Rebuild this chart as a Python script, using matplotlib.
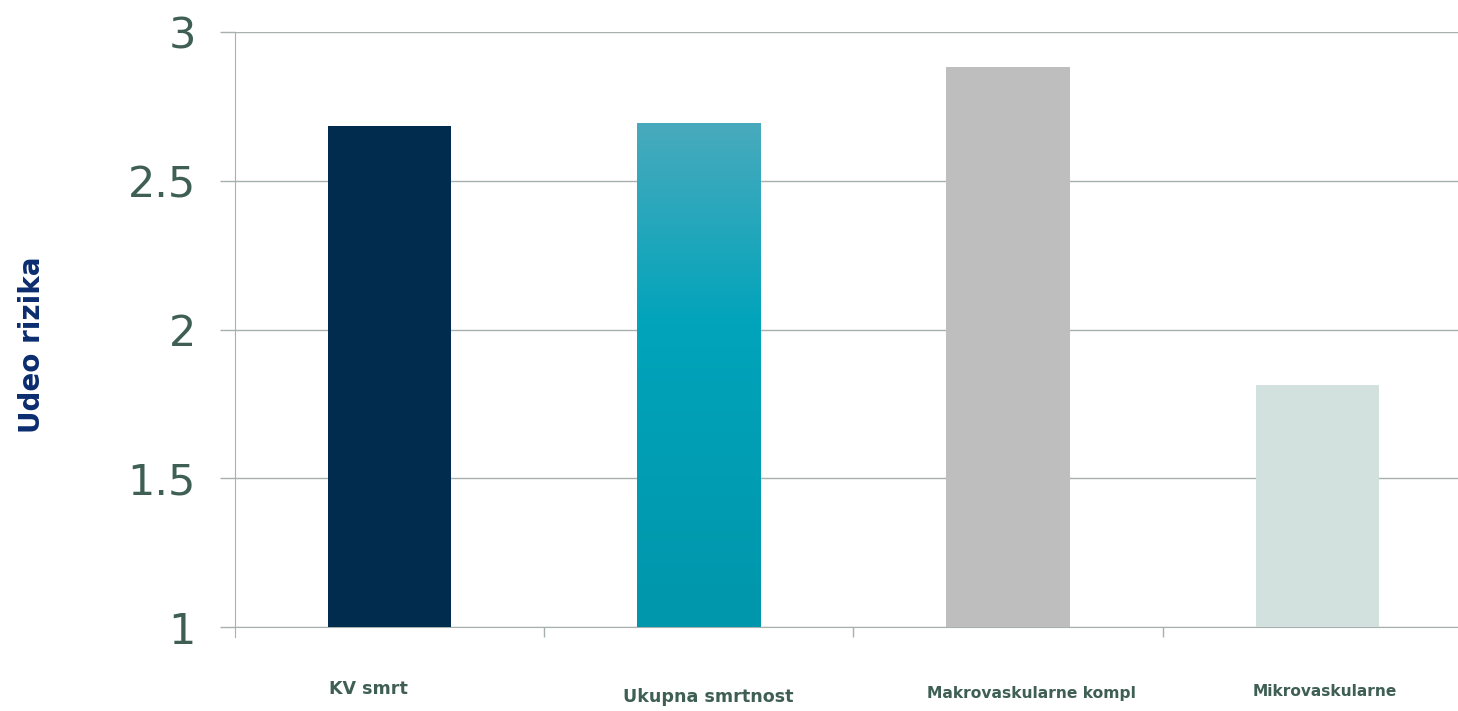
import numpy as np
import matplotlib.pyplot as plt
from matplotlib.colors import LinearSegmentedColormap
from matplotlib.transforms import blended_transform_factory

# Podaci
kategorije = ["KV smrt", "Ukupna smrtnost", "Makrovaskularne kompl", "Mikrovaskularne"]
vrednosti = [2.684, 2.694, 2.882, 1.813]
boje = ["#022c4e", "#00a2b9", "#bebebe", "#d3e1de"]
y_ticks = [1, 1.5, 2, 2.5, 3]
y_tick_labels = ["1", "1.5", "2", "2.5", "3"]

# Pozicije i velicine natpisa kategorija (levi rub u jedinicama x ose, y u jedinicama ose)
natpis_x = [-0.196, 0.754, 1.737, 2.791]
natpis_y = [-0.105, -0.118, -0.111, -0.109]
natpis_vel = [12.6, 12.6, 11.2, 11.1]

tekst_boja = "#3f5f55"
mreza_boja = "#a7b1ae"

fig = plt.figure(figsize=(14.58, 7.11), dpi=100)
ax = fig.add_axes([235 / 1458, 84 / 711, 1237 / 1458, 595 / 711])

x = np.arange(len(kategorije))
bars = ax.bar(x, [v - 1 for v in vrednosti], bottom=1, width=0.4,
              color=boje, zorder=3, linewidth=0)

# Gradijent za drugi stubic
grad = LinearSegmentedColormap.from_list(
    "tirkiz", [(0.0, "#0096ab"), (0.6, "#00a4bb"), (1.0, "#49aabd")])
b = bars[1]
x0, w = b.get_x(), b.get_width()
y0, h = b.get_y(), b.get_height()
img = ax.imshow(np.linspace(0, 1, 256).reshape(-1, 1), cmap=grad, origin="lower",
                extent=[x0, x0 + w, y0, y0 + h], aspect="auto", zorder=3)
img.set_clip_path(b)
b.set_facecolor("none")

ax.set_xlim(-0.5, 3.5)
ax.set_ylim(1, 3)

# Mreza i ose
ax.set_yticks(y_ticks)
ax.set_yticklabels(y_tick_labels)
ax.yaxis.grid(True, color=mreza_boja, linewidth=1.0, zorder=0)
ax.tick_params(axis="y", length=11, width=1.0, color=mreza_boja, pad=17,
               labelsize=31, labelcolor=tekst_boja)
ax.set_xticks([0.5, 1.5, 2.5])
ax.set_xticklabels([])
ax.tick_params(axis="x", length=7.5, width=1.0, color=mreza_boja)
for s in ["top", "right"]:
    ax.spines[s].set_visible(False)
ax.spines["left"].set_color(mreza_boja)
ax.spines["bottom"].set_color(mreza_boja)
ax.spines["left"].set_bounds(0.966, 3)

for lab in ax.get_yticklabels():
    lab.set_fontfamily("DejaVu Sans")

# Natpisi kategorija
trans = blended_transform_factory(ax.transData, ax.transAxes)
for naziv, nx, ny, vel in zip(kategorije, natpis_x, natpis_y, natpis_vel):
    ax.text(nx, ny, naziv, transform=trans, ha="left", va="center",
            fontsize=vel, fontweight="bold", color=tekst_boja, clip_on=False)

fig.text(32 / 1458, 1 - 345 / 711, "Udeo rizika", rotation=90, ha="center", va="center",
         fontsize=20, fontweight="bold", color="#0b2c6e")

fig.savefig("out.png", dpi=100)
